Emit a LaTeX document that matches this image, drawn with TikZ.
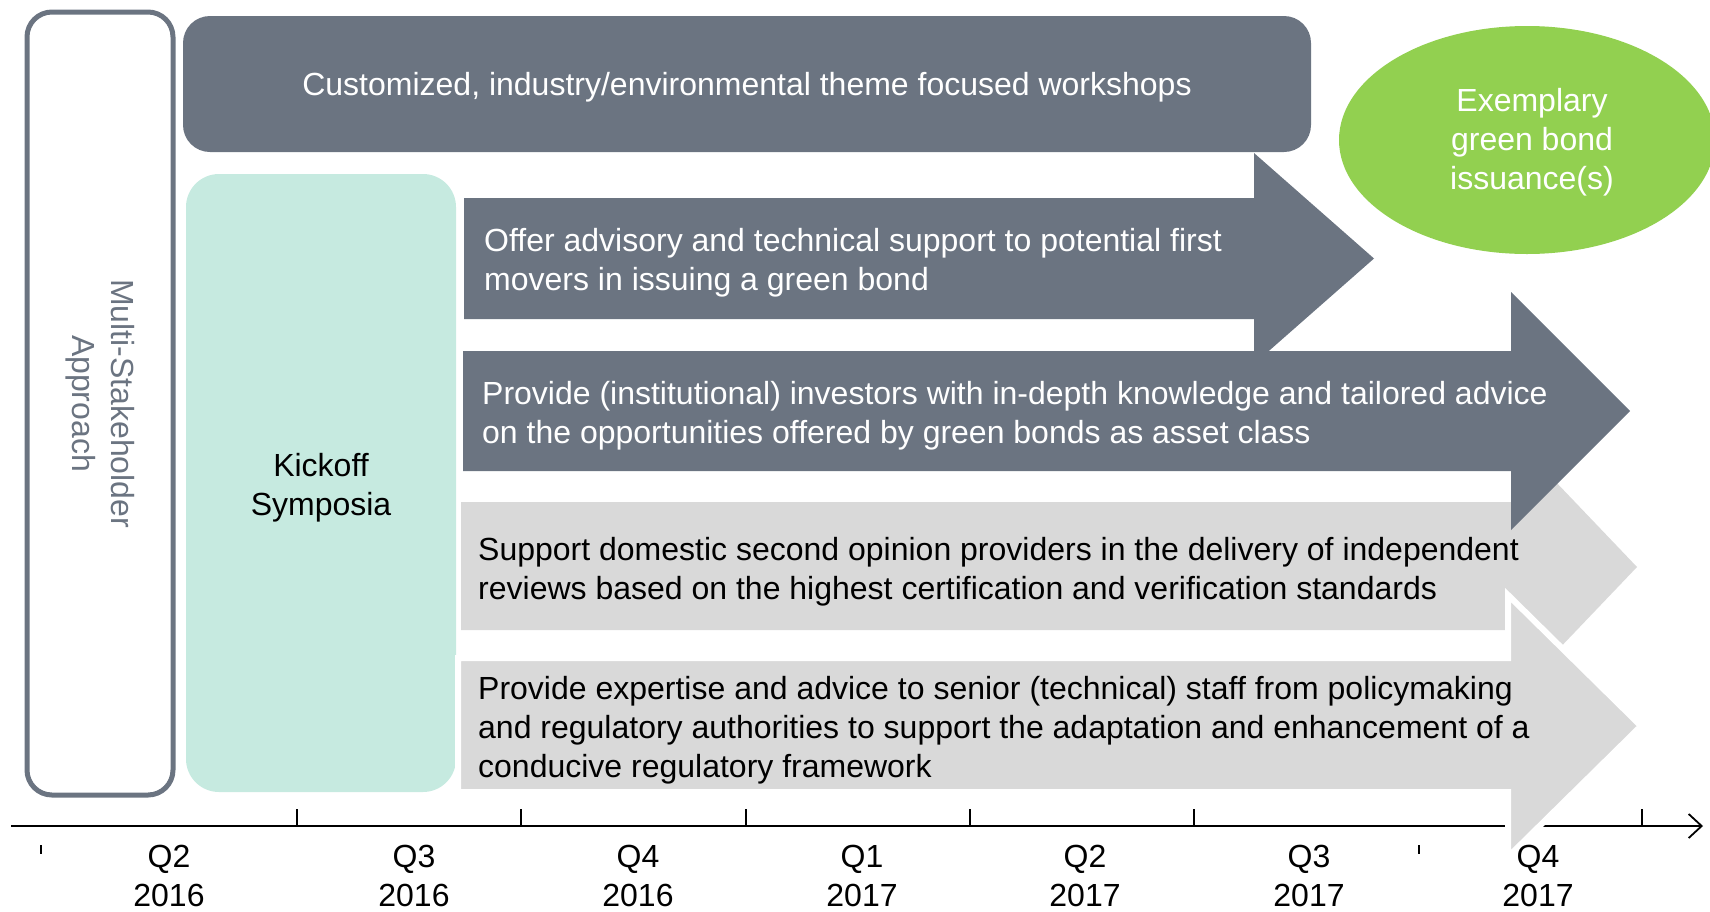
\documentclass[tikz,border=0pt]{standalone}
\usepackage{fontspec}
\setmainfont{Liberation Sans}
\usepackage{xcolor}
\usetikzlibrary{arrows.meta,positioning,shapes.geometric}

\definecolor{slate}{HTML}{6B7481}
\definecolor{mint}{HTML}{C6EAE0}
\definecolor{leaf}{HTML}{92D050}
\definecolor{ash}{HTML}{D9D9D9}

\tikzset{
  txt/.style={font=\fontsize{32}{39}\selectfont, inner sep=0pt},
  darkarrow/.style={fill=slate},
  lightarrow/.style={fill=ash}
}

\begin{document}
\begin{tikzpicture}[x=1pt,y=-1pt]
		\useasboundingbox (0,0) rectangle (1710,911);
		\clip (0,0) rectangle (1710,911);
		% boxes
		\fill[slate, rounded corners=27pt] (183,16) rectangle (1311,152);
		\node[txt, text=white] (workshops) at (747,87.5) {Customized, industry/environmental theme focused workshops};
		\node[draw=slate, line width=5pt, rounded corners=25pt, minimum width=146pt, minimum height=783pt] (stakeholder) at (100,403.5) {};
		\node[txt, text=slate, rotate=-90, align=center] (approach) at (stakeholder) {Multi-Stakeholder\\Approach};
		\fill[mint, rounded corners=33pt] (186,174) rectangle (456,792);
		\node[txt, align=center] (kickoff) at (321,487.5) {Kickoff\\Symposia};
		\node[ellipse, fill=leaf, minimum width=376pt, minimum height=228pt] (oval) at (1527,140) {};
		\node[txt, text=white, align=center] (issuance) at (1532,142) {Exemplary\\green bond\\issuance(s)};
		% timeline
		\coordinate (start) at (11,826);
		\coordinate (end) at (1703,826);
		\draw[line width=1.8pt, -{Straight Barb[length=13pt,width=24pt]}] (start) -- (end);
		\foreach \x in {297,521,746,970,1194,1642}
		\draw[line width=1.5pt] (\x,809) -- (\x,826);
		\foreach \x in {41,1419}
		\draw[line width=2pt] (\x,845) -- (\x,854);
		% arrows
		\path[lightarrow] (461,502) -- (1511,502) -- (1511,435) -- (1637,567) -- (1511,699) -- (1511,630) -- (461,630) -- cycle;
		\path[lightarrow, draw=white, line width=6pt] (458,658) -- (1508,658) -- (1508,595) -- (1641,726) -- (1508,857) -- (1508,792) -- (458,792) -- cycle;
		\path[darkarrow] (464,198) -- (1254,198) -- (1254,153) -- (1374,258.5) -- (1254,364) -- (1254,319) -- (464,319) -- cycle;
		\path[darkarrow] (463,351) -- (1511,351) -- (1511,292) -- (1630,411) -- (1511,530) -- (1511,471) -- (463,471) -- cycle;
		\node[txt, text=white, anchor=west, align=left] (advisory) at (484,263) {Offer advisory and technical support to potential first\\movers in issuing a green bond};
		\node[txt, text=white, anchor=west, align=left] (investors) at (482,415.5) {Provide (institutional) investors with in-depth knowledge and tailored advice\\on the opportunities offered by green bonds as asset class};
		\node[txt, anchor=west, align=left] (reviews) at (478,571.5) {Support domestic second opinion providers in the delivery of independent\\reviews based on the highest certification and verification standards};
		\node[txt, anchor=west, align=left] (policy) at (478,730) {Provide expertise and advice to senior (technical) staff from policymaking\\and regulatory authorities to support the adaptation and enhancement of a\\conducive regulatory framework};
		% quarters
		\foreach \x/\q/\yr [count=\i] in {169/Q2/2016,414/Q3/2016,638/Q4/2016,862/Q1/2017,1085/Q2/2017,1309/Q3/2017,1538/Q4/2017}
		\node[txt, align=center] (q\i) at (\x,875.5) {\q\\\yr};
\end{tikzpicture}
\end{document}
